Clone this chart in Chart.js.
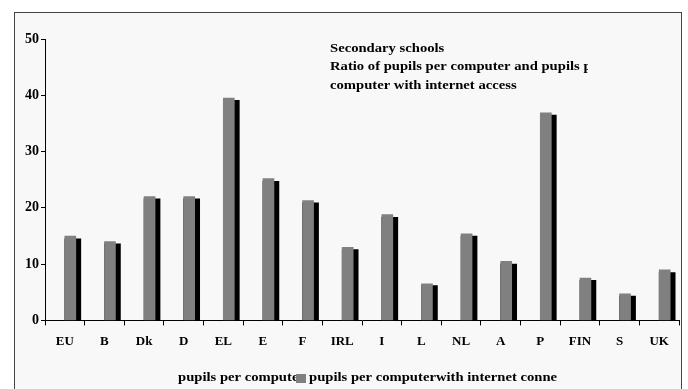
<!DOCTYPE html>
<html>
  <head>
    <script src="https://cdn.jsdelivr.net/npm/chart.js@4"></script>
    <style>
      body { margin: 0; background: #fff; }
    </style>
  </head>

  <body>
    <canvas id="canvas" width="688" height="389"></canvas>
    <script>
      const categories = ['EU', 'B', 'Dk', 'D', 'EL', 'E', 'F', 'IRL', 'I', 'L', 'NL', 'A', 'P', 'FIN', 'S', 'UK'];
      const pupilsPerComputer = [15.0, 14.0, 22.0, 22.0, 39.5, 25.2, 21.3, 13.0, 18.8, 6.5, 15.4, 10.5, 36.9, 7.5, 4.7, 9.0];
      const pupilsPerInternetComputer = [14.5, 13.6, 21.6, 21.6, 39.1, 24.7, 20.9, 12.6, 18.3, 6.2, 15.0, 10.0, 36.5, 7.1, 4.3, 8.5];
      const yTicks = [0, 10, 20, 30, 40, 50];
      const titleLines = ['Secondary schools', 'Ratio of pupils per computer and pupils per', 'computer with internet access'];
      const legendLabels = ['pupils per compute', 'pupils per computerwith internet conne'];

      const serif = '"Liberation Serif", "DejaVu Serif", serif';
      const pupilsColor = '#808080';
      const internetColor = '#000000';

      // the source picture is stretched sideways, so text is widened a bit
      function wideText(ctx, text, x, y) {
        ctx.save();
        ctx.translate(x, y);
        ctx.scale(1.22, 1);
        ctx.fillText(text, 0, 0);
        ctx.restore();
      }

      // frame + light background behind the chart
      const framePlugin = {
        id: 'frame',
        beforeDraw(chart) {
          const ctx = chart.ctx;
          ctx.save();
          ctx.fillStyle = '#fff';
          ctx.fillRect(0, 0, chart.width, chart.height);
          ctx.fillStyle = '#f8f8f8';
          ctx.fillRect(14, 12, 667, 400);
          ctx.strokeStyle = '#444';
          ctx.lineWidth = 1;
          ctx.strokeRect(14.5, 12.5, 667, 400);
          ctx.restore();
        },
      };

      // title block inside the plot and the truncated legend at the bottom
      const textPlugin = {
        id: 'texts',
        afterDraw(chart) {
          const ctx = chart.ctx;
          ctx.save();
          ctx.fillStyle = '#000';
          ctx.font = 'bold 12px ' + serif;
          ctx.textBaseline = 'middle';
          ctx.textAlign = 'left';
          const ys = [49, 67, 86];
          ctx.save();
          ctx.beginPath();
          ctx.rect(0, 0, 588, chart.height);
          ctx.clip();
          titleLines.forEach((line, i) => wideText(ctx, line, 330, ys[i]));
          ctx.restore();

          wideText(ctx, legendLabels[0], 178, 378);
          ctx.fillStyle = pupilsColor;
          ctx.fillRect(296, 374, 10, 9);
          ctx.fillStyle = '#000';
          wideText(ctx, legendLabels[1], 309, 378);
          ctx.restore();
        },
      };

      new Chart(document.getElementById('canvas'), {
        type: 'bar',
        data: {
          labels: categories,
          datasets: [
            {
              // empty slot so the pair sits to the right of each category centre
              label: '',
              data: categories.map(() => null),
              stack: 'spacer',
              barThickness: 11,
            },
            {
              label: legendLabels[0],
              data: pupilsPerComputer,
              backgroundColor: pupilsColor,
              stack: 'pair',
              barThickness: 11,
            },
            {
              label: legendLabels[1],
              data: pupilsPerInternetComputer,
              backgroundColor: internetColor,
              stack: 'pair',
              barThickness: 16,
            },
          ],
        },
        options: {
          responsive: false,
          animation: false,
          layout: {
            padding: { left: 23, right: 9, top: 39, bottom: 32 },
          },
          plugins: {
            legend: { display: false },
            tooltip: { enabled: false },
          },
          scales: {
            x: {
              grid: {
                drawOnChartArea: false,
                drawTicks: true,
                tickLength: 5,
                color: '#000',
                offset: true,
              },
              border: { color: '#000', width: 1 },
              ticks: {
                color: '#000',
                padding: 8,
                maxRotation: 0,
                autoSkip: false,
                font: { family: serif, weight: 'bold', size: 13 },
              },
            },
            y: {
              stacked: false,
              min: yTicks[0],
              max: yTicks[yTicks.length - 1],
              afterBuildTicks(scale) {
                scale.ticks = yTicks.map((v) => ({ value: v }));
              },
              grid: {
                drawOnChartArea: false,
                drawTicks: true,
                tickLength: 4,
                color: '#000',
              },
              border: { color: '#000', width: 1 },
              ticks: {
                color: '#000',
                padding: 2,
                font: { family: serif, weight: 'bold', size: 14 },
              },
            },
          },
        },
        plugins: [framePlugin, textPlugin],
      });
    </script>
  </body>
</html>
